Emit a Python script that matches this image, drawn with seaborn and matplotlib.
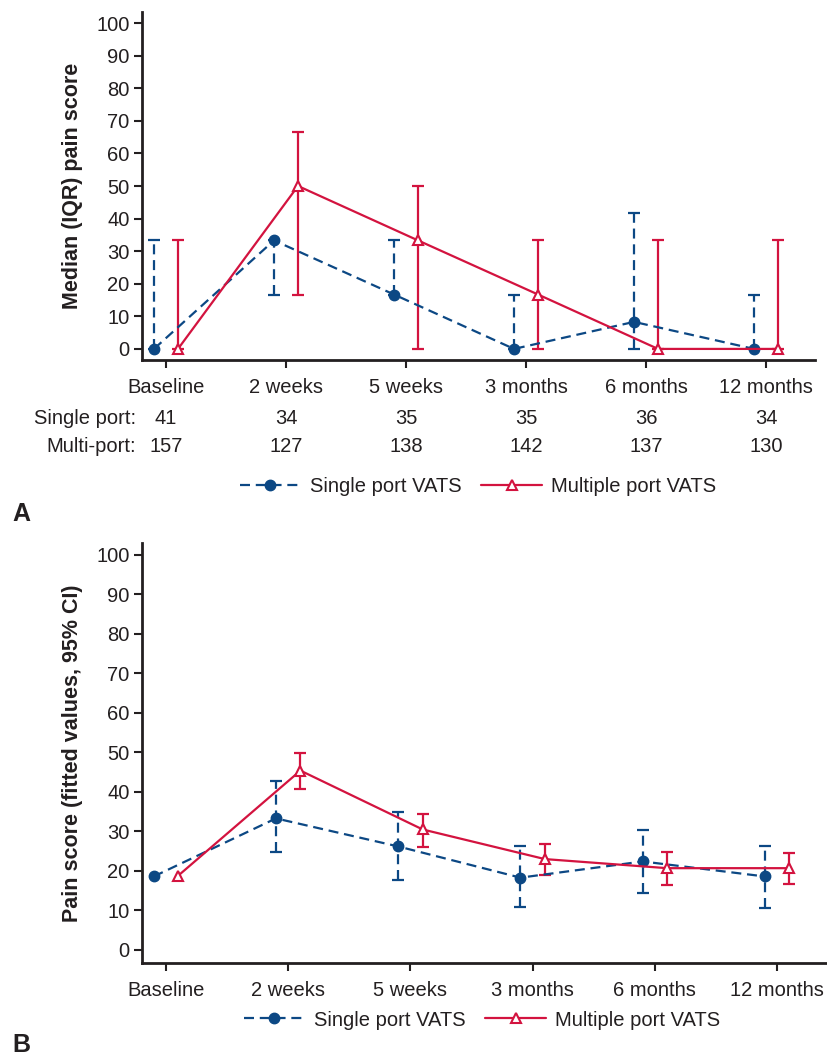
import numpy as np
import matplotlib
matplotlib.use("Agg")
import matplotlib.pyplot as plt
import seaborn as sns
from matplotlib.transforms import blended_transform_factory

# time points on the x axis
timepoints = ["Baseline", "2 weeks", "5 weeks", "3 months", "6 months", "12 months"]

# panel A: median pain score with IQR
single_median = [0, 33.3, 16.7, 0, 8.3, 0]
single_q1 = [0, 16.7, 16.7, 0, 0, 0]
single_q3 = [33.3, 33.3, 33.3, 16.7, 41.7, 16.7]
multi_median = [0, 50, 33.3, 16.7, 0, 0]
multi_q1 = [0, 16.7, 0, 0, 0, 0]
multi_q3 = [33.3, 66.7, 50, 33.3, 33.3, 33.3]

# numbers of patients per time point
n_single = [41, 34, 35, 35, 36, 34]
n_multi = [157, 127, 138, 142, 137, 130]

# panel B: fitted values with 95% CI (no CI at baseline)
single_fit = [18.6, 33.3, 26.2, 18.3, 22.4, 18.6]
single_lo = [None, 24.9, 17.7, 10.8, 14.5, 10.6]
single_hi = [None, 42.8, 34.8, 26.4, 30.4, 26.3]
multi_fit = [18.8, 45.4, 30.5, 23.0, 20.7, 20.7]
multi_lo = [None, 40.8, 26.0, 19.0, 16.5, 16.6]
multi_hi = [None, 49.9, 34.3, 26.8, 24.9, 24.5]

BLUE = "#0c4884"
RED = "#d3133f"
INK = "#231f20"
DASH = (0, (4.5, 2.6))
FS = 14.5
LABEL_FS = 15.5

sns.set_style("ticks")
plt.rcParams["font.family"] = ["Liberation Sans", "DejaVu Sans"]
plt.rcParams["text.color"] = INK
plt.rcParams["axes.labelcolor"] = INK
plt.rcParams["xtick.color"] = INK
plt.rcParams["ytick.color"] = INK


def draw_errorbars(ax, x, mid, lo, hi, color, dashed):
    keep = [i for i in range(len(mid)) if lo[i] is not None]
    xs = np.array([x[i] for i in keep])
    ys = np.array([mid[i] for i in keep])
    err = [ys - np.array([lo[i] for i in keep]),
           np.array([hi[i] for i in keep]) - ys]
    eb = ax.errorbar(xs, ys, yerr=err, fmt="none", ecolor=color,
                     elinewidth=1.6, capsize=4.5, capthick=1.6, zorder=2)
    if dashed:
        eb[2][0].set_linestyle(DASH)


def draw_panel(ax, s_mid, s_lo, s_hi, m_mid, m_lo, m_hi, xlim, ylim):
    pos = np.arange(len(timepoints))
    xs = pos - 0.1
    xm = pos + 0.1
    draw_errorbars(ax, xs, s_mid, s_lo, s_hi, BLUE, True)
    draw_errorbars(ax, xm, m_mid, m_lo, m_hi, RED, False)
    sns.lineplot(x=xs, y=s_mid, ax=ax, color=BLUE, linestyle=DASH,
                 linewidth=1.6, marker="o", markersize=7.5,
                 markerfacecolor=BLUE, markeredgecolor=BLUE,
                 markeredgewidth=1, label="Single port VATS", zorder=3)
    sns.lineplot(x=xm, y=m_mid, ax=ax, color=RED, linewidth=1.6,
                 marker="^", markersize=7.5, markerfacecolor="white",
                 markeredgecolor=RED, markeredgewidth=1.5,
                 label="Multiple port VATS", zorder=3)
    ax.get_legend().remove()
    ax.set_xlim(*xlim)
    ax.set_ylim(*ylim)
    ax.set_xticks(pos)
    ax.set_xticklabels(timepoints, fontsize=FS)
    ax.set_yticks(range(0, 101, 10))
    ax.tick_params(axis="y", labelsize=FS, length=6, width=1.5, pad=3)
    ax.tick_params(axis="x", labelsize=FS, length=6, width=1.5, pad=7)
    sns.despine(ax=ax)
    for side in ["left", "bottom"]:
        ax.spines[side].set_linewidth(2)
        ax.spines[side].set_color(INK)


def add_legend(ax, x, y):
    handles, labels = ax.get_legend_handles_labels()
    fig.legend(handles, labels, loc="center", bbox_to_anchor=(x, y),
               ncol=2, frameon=False, fontsize=FS, handlelength=3.0,
               handletextpad=0.45, columnspacing=1.0)


fig = plt.figure(figsize=(8.27, 10.55), dpi=100)
W, H = 827.0, 1055.0

# panel A
ax_a = fig.add_axes([142 / W, 1 - 360 / H, 673 / W, 348 / H])
draw_panel(ax_a, single_median, single_q1, single_q3,
           multi_median, multi_q1, multi_q3, (-0.2, 5.408), (-3.4, 103.4))
ax_a.set_ylabel("Median (IQR) pain score", fontsize=LABEL_FS, fontweight="bold")
ax_a.yaxis.set_label_coords(-0.088, 0.5)

# numbers below the axis
tr = blended_transform_factory(ax_a.transData, fig.transFigure)
for row_y, label, counts in [(1 - 419 / H, "Single port:", n_single),
                             (1 - 447 / H, "Multi-port:", n_multi)]:
    fig.text(136 / W, row_y, label, ha="right", va="center", fontsize=FS)
    for i, n in enumerate(counts):
        ax_a.text(i, row_y, str(n), transform=tr, ha="center", va="center",
                  fontsize=FS)

add_legend(ax_a, 478 / W, 1 - 487 / H)
fig.text(12 / W, 1 - 514 / H, "A", fontsize=18, fontweight="bold",
         ha="left", va="center")

# panel B
ax_b = fig.add_axes([142 / W, 1 - 963 / H, 684 / W, 420 / H])
draw_panel(ax_b, single_fit, single_lo, single_hi,
           multi_fit, multi_lo, multi_hi, (-0.196, 5.40), (-3.3, 103.0))
ax_b.set_ylabel("Pain score (fitted values, 95% CI)", fontsize=LABEL_FS,
                fontweight="bold")
ax_b.yaxis.set_label_coords(-0.086, 0.5)

add_legend(ax_b, 482 / W, 1 - 1020 / H)
fig.text(12 / W, 1 - 1045 / H, "B", fontsize=18, fontweight="bold",
         ha="left", va="center")

fig.savefig("out.png", dpi=100)
